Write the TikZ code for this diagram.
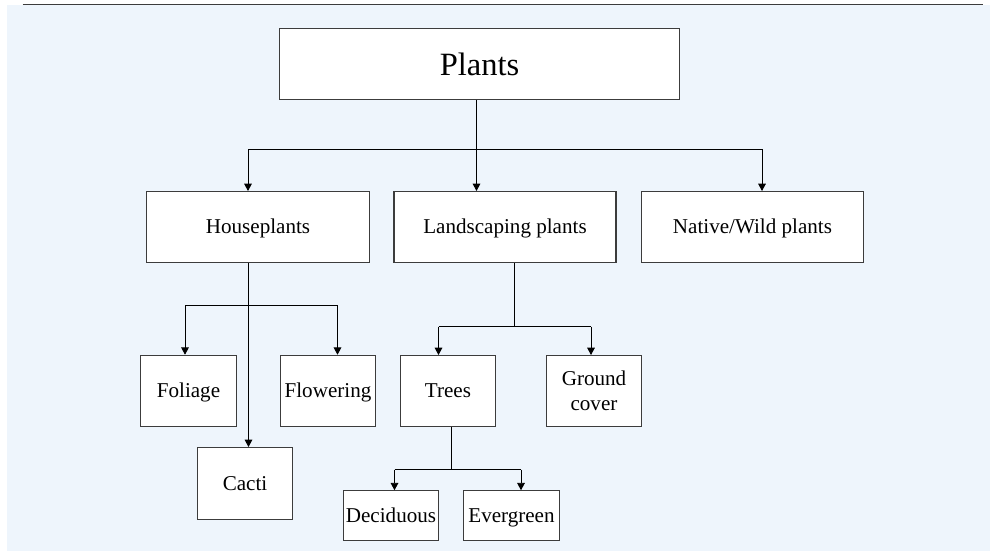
\documentclass[tikz,border=0pt]{standalone}
\usepackage{fontspec}
\setmainfont{Liberation Serif}
\usetikzlibrary{arrows.meta}
\definecolor{bgblue}{RGB}{238,245,252}
\definecolor{boxgray}{RGB}{60,60,60}

\begin{document}
\begin{tikzpicture}[
    box/.style={draw=boxgray, line width=0.6pt, fill=white, inner sep=0pt, align=center,
        font=\fontsize{12}{14.2}\selectfont},
    leaf/.style={box, text height=9.6pt, text depth=1.8pt},
    arr/.style={-{Triangle[width=4.4pt, length=4.2pt]}, line width=0.5pt},
    wire/.style={line width=0.5pt}
]
        % Background
        \useasboundingbox (0,0) rectangle (19.8,-11.02);
        \fill[bgblue] (0.14,-0.10) rectangle (19.8,-11.02);
        \draw[boxgray, line width=0.7pt] (0.45,-0.088) -- (19.65,-0.088);

        % Draw nodes
        \node[box, minimum width=7.99cm, minimum height=1.42cm, font=\fontsize{18.5}{22}\selectfont] (plants) at (9.59,-1.28) {Plants};
        \node[leaf, minimum width=4.45cm, minimum height=1.42cm] (house) at (5.16,-4.54) {Houseplants};
        \node[leaf, minimum width=4.44cm, minimum height=1.42cm] (land) at (10.10,-4.54) {Landscaping plants};
        \node[leaf, minimum width=4.44cm, minimum height=1.42cm] (wild) at (15.05,-4.54) {Native/Wild plants};
        \node[leaf, minimum width=1.91cm, minimum height=1.43cm] (foliage) at (3.77,-7.82) {Foliage};
        \node[leaf, minimum width=1.91cm, minimum height=1.43cm] (flower) at (6.56,-7.82) {Flowering};
        \node[leaf, minimum width=1.90cm, minimum height=1.44cm] (cacti) at (4.90,-9.67) {Cacti};
        \node[leaf, minimum width=1.91cm, minimum height=1.42cm] (trees) at (8.96,-7.82) {Trees};
        \node[box, minimum width=1.91cm, minimum height=1.42cm] (ground) at (11.88,-7.82) {Ground\\cover};
        \node[leaf, minimum width=1.91cm, minimum height=0.99cm] (decid) at (7.82,-10.31) {Deciduous};
        \node[leaf, minimum width=1.91cm, minimum height=0.99cm] (ever) at (10.23,-10.31) {Evergreen};

        % Bend points
        \coordinate (p1) at (4.96,-2.98);
        \coordinate (p2) at (9.53,-2.98);
        \coordinate (p3) at (15.24,-2.98);
        \coordinate (h1) at (3.70,-6.11);
        \coordinate (h2) at (6.75,-6.11);
        \coordinate (hc) at (4.97,-6.11);
        \coordinate (l1) at (8.77,-6.53);
        \coordinate (l2) at (11.82,-6.53);
        \coordinate (lc) at (10.29,-6.53);
        \coordinate (t1) at (7.89,-9.39);
        \coordinate (t2) at (10.42,-9.39);
        \coordinate (tc) at (9.03,-9.39);

        % Draw connections
        \draw[wire] (plants.south -| p2) -- (p2);
        \draw[wire] (p1) -- (p3);
        \draw[arr] (p1) -- (p1 |- house.north);
        \draw[arr] (p2) -- (p2 |- land.north);
        \draw[arr] (p3) -- (p3 |- wild.north);

        \draw[arr] (house.south -| hc) -- (hc |- cacti.north);
        \draw[wire] (h1) -- (h2);
        \draw[arr] (h1) -- (h1 |- foliage.north);
        \draw[arr] (h2) -- (h2 |- flower.north);

        \draw[wire] (land.south -| lc) -- (lc);
        \draw[wire] (l1) -- (l2);
        \draw[arr] (l1) -- (l1 |- trees.north);
        \draw[arr] (l2) -- (l2 |- ground.north);

        \draw[wire] (trees.south -| tc) -- (tc);
        \draw[wire] (t1) -- (t2);
        \draw[arr] (t1) -- (t1 |- decid.north);
        \draw[arr] (t2) -- (t2 |- ever.north);
    \end{tikzpicture}
\end{document}
